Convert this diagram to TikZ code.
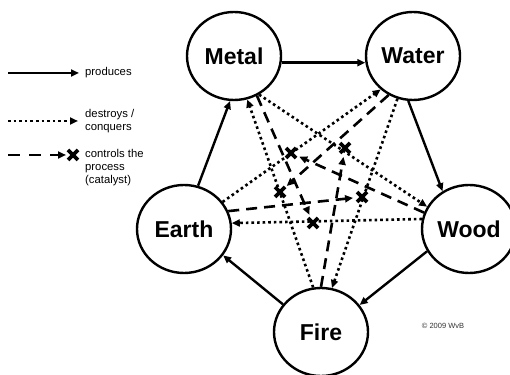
\documentclass[tikz,border=0pt]{standalone}
\usepackage{fontspec}
\setmainfont{Liberation Sans}
\usetikzlibrary{arrows.meta,shapes.geometric}
\tikzset{
  elem/.style={draw, line width=2.4pt, ellipse, minimum width=94pt, minimum height=88pt,
    inner sep=0pt, font=\fontsize{23}{23}\selectfont\bfseries},
  tip/.style={-{Triangle[length=8pt,width=7pt]}},
  prod/.style={line width=2.4pt, tip},
  destr/.style={line width=2.6pt, dash pattern=on 2.6pt off 3pt, tip},
  ctrl/.style={line width=2.6pt, dash pattern=on 11pt off 7pt, tip, shorten >=9pt},
  legdash/.style={line width=2.6pt, dash pattern=on 12pt off 9pt, tip},
  legtext/.style={inner sep=0pt, anchor=west, align=left, font=\fontsize{11.3}{13}\selectfont},
  xmark/.pic={\draw[line width=3.6pt] (-5,-5) -- (5,5) (-5,5) -- (5,-5);}
}
\begin{document}
\begin{tikzpicture}[x=1pt,y=1pt]
\useasboundingbox (0,0) rectangle (510,374);

% elements
\node[elem] (Metal) at (234,318) {Metal};
\node[elem] (Water) at (413,318) {Water};
\node[elem] (Earth) at (184,145) {Earth};
\node[elem] (Wood)  at (469,145) {Wood};
\node[elem] (Fire)  at (321,42)  {Fire};

% produces
\draw[prod] (Metal.-8) -- (Water.188);
\draw[prod] (Water.-96) -- (Wood.125);
\draw[prod] (Wood.208) -- (Fire.35);
\draw[prod] (Fire.144) -- (Earth.-34);
\draw[prod] (Earth.72) -- (Metal.-95);

% destroys / conquers
\draw[destr] (Metal.-57) -- (Wood.152);
\draw[destr] (Wood.168) -- (Earth.7);
\draw[destr] (Earth.35) -- (Water.226);
\draw[destr] (Water.250) -- (Fire.76);
\draw[destr] (Fire.100) -- (Metal.-73);

% control points
\coordinate (X1) at (313,151);
\coordinate (X2) at (280,182);
\coordinate (X3) at (362,177);
\coordinate (X4) at (345,226);
\coordinate (X5) at (291,221);

% controls the process
\draw[ctrl] (Metal.-60) -- (X1);
\draw[ctrl] (Water.238) -- (X2);
\draw[ctrl] (Earth.22) -- (X3);
\draw[ctrl] (Fire.90) -- (X4);
\draw[ctrl] (Wood.160) -- (X5);
\foreach \p in {X1,X2,X3,X4,X5} \pic at (\p) {xmark};

% legend
\node[legtext] (Lp) at (85,301) {produces};
\node[legtext] (Ld) at (85,253) {destroys /\\conquers};
\node[legtext] (Lc) at (85,206) {controls the\\process\\(catalyst)};
\coordinate (Ls1) at (8,301);
\coordinate (Ls2) at (8,253);
\coordinate (Ls3) at (8,219);
\coordinate (LX) at (73,219);
\draw[prod] (Ls1) -- ([xshift=-6pt]Lp.west);
\draw[destr] (Ls2) -- (78,253);
\draw[legdash] (Ls3) -- ([xshift=-7pt]LX);
\pic at (LX) {xmark};

% copyright
\node[inner sep=0pt, text=black!80, font=\fontsize{7.5}{9}\selectfont] (copy) at (443,48) {© 2009 WvB};
\end{tikzpicture}
\end{document}
